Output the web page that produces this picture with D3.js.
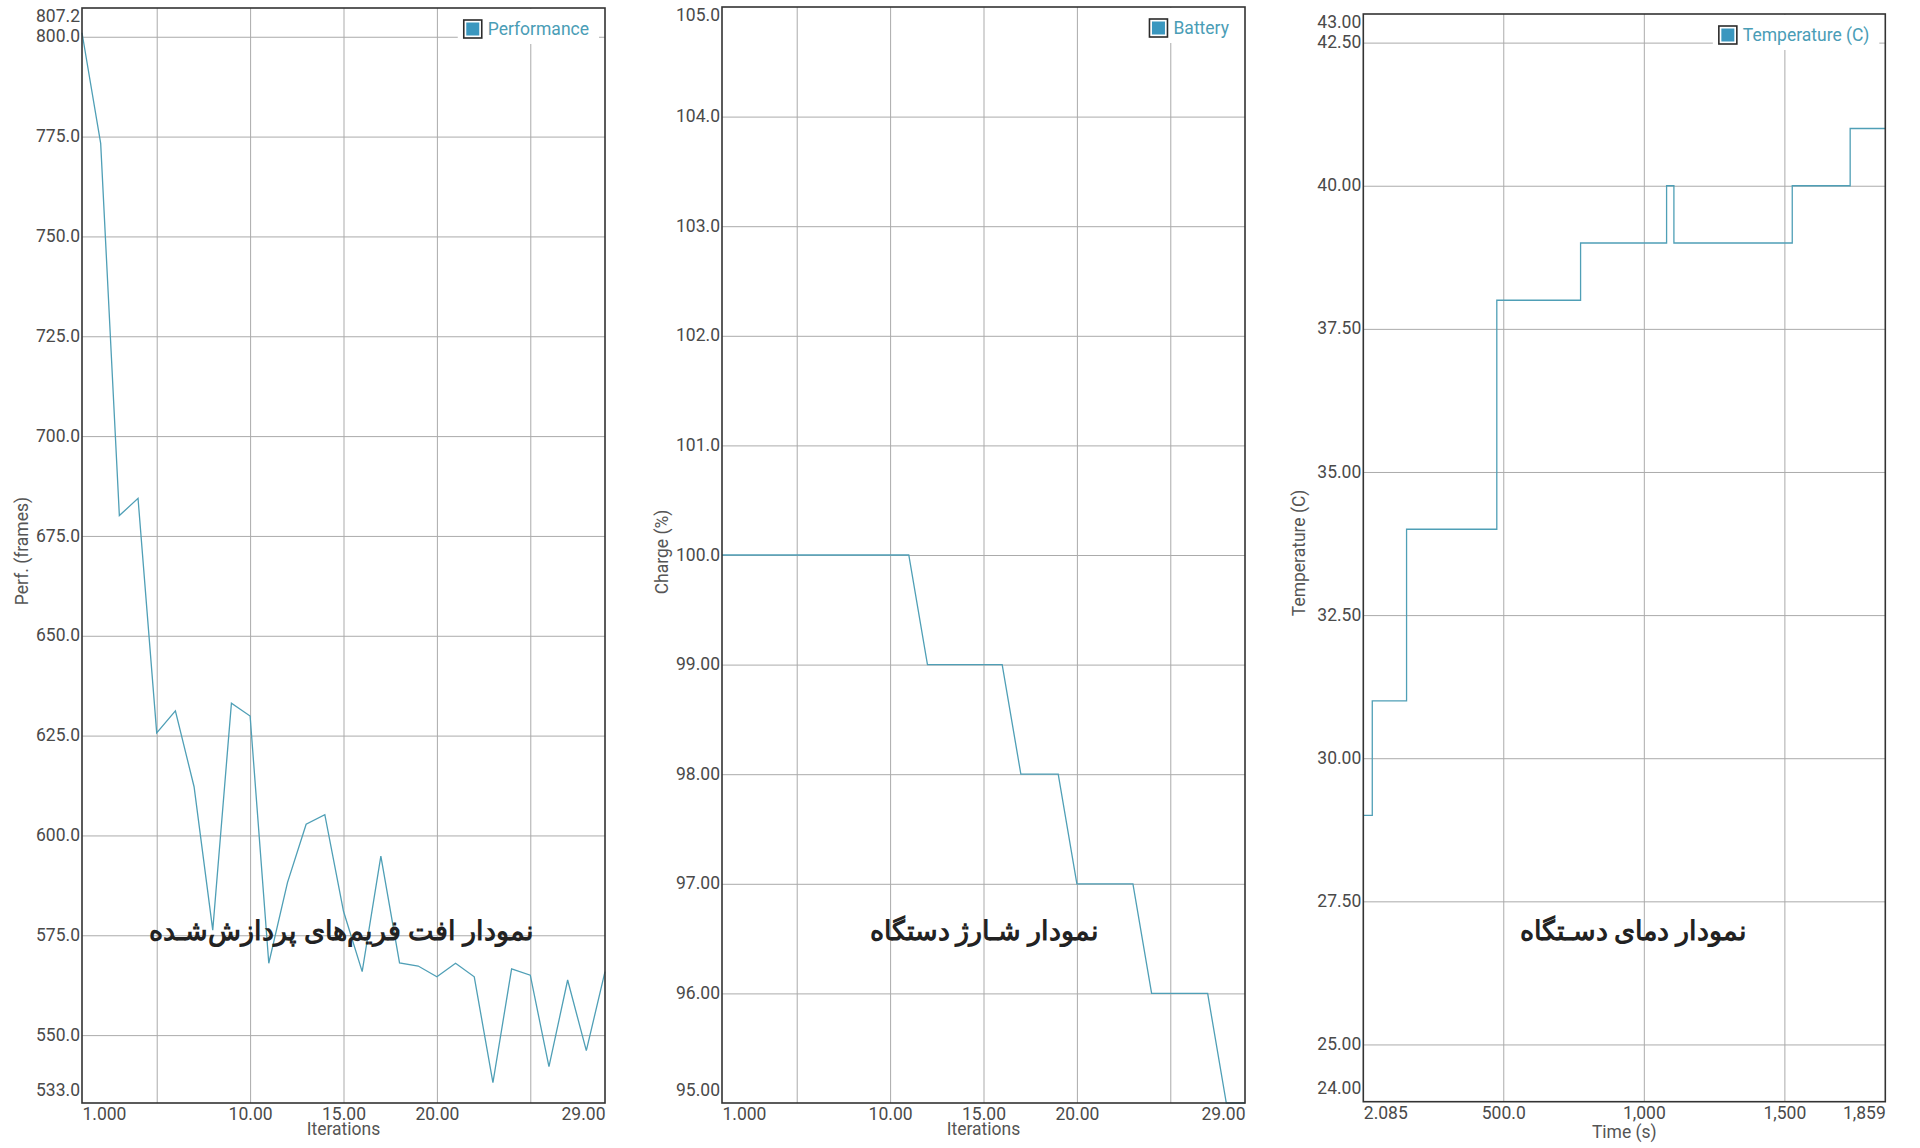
<!DOCTYPE html>
<html><head><meta charset="utf-8">
<script src="https://cdn.jsdelivr.net/npm/d3@7"></script>
<style>
body{margin:0;background:#fff}
text{font-family:Roboto,"Noto Sans",sans-serif}
</style>
</head><body>
<svg id="c" width="1920" height="1148"></svg>
<script>
// ---------- DATA ----------
const iterations = [1,2,3,4,5,6,7,8,9,10,11,12,13,14,15,16,17,18,19,20,21,22,23,24,25,26,27,28,29];
const performance = [801,773.3,680.1,684.4,625.7,631.2,612.2,576.3,633.1,629.9,568.0,588.2,602.8,605.2,581.0,565.9,594.8,568.1,567.3,564.6,568.0,564.6,538.1,566.6,565.0,542.1,563.8,546.1,565.9];
const battery = [100,100,100,100,100,100,100,100,100,100,100,99,99,99,99,99,98,98,98,97,97,97,97,96,96,96,96,95,95];
const tempTime = [2.085,34,156,477,775,1081,1107,1528,1734,1859];
const tempValue = [29,31,34,38,39,40,39,40,41,41];

const iterTickLabels = [1,10,15,20,29];
const iterGrid = [5,10,15,20,25];
const perfYTicks = [533,550,575,600,625,650,675,700,725,750,775,800,807.2];
const perfYGrid = [550,575,600,625,650,675,700,725,750,775,800];
const battYTicks = [95,96,97,98,99,100,101,102,103,104,105];
const battYGrid = [96,97,98,99,100,101,102,103,104];
const timeTickLabels = [2.085,500,1000,1500,1859];
const timeGrid = [500,1000,1500];
const tempYTicks = [24,25,27.5,30,32.5,35,37.5,40,42.5,43];
const tempYGrid = [25,27.5,30,32.5,35,37.5,40,42.5];

const seriesNames = ["Performance","Battery","Temperature (C)"];
const yTitles = ["Perf. (frames)","Charge (%)","Temperature (C)"];
const xTitles = ["Iterations","Iterations","Time (s)"];
const chartTitles = ["نمودار افت فریم‌های پردازش‌شـده","نمودار شـارژ دستگاه","نمودار دمای دسـتگاه"];

// ---------- LAYOUT ----------
const panels = [
  {x: iterations, y: performance, xDom:[1,29], yDom:[533,807.2], xLab:iterTickLabels, xGrid:iterGrid, yLab:perfYTicks, yGrid:perfYGrid,
   L:82, R:605, T:8, B:1103, step:false, yTitleY:551, yTitleOff:54, xTitleOff:32, titleDx:-2},
  {x: iterations, y: battery, xDom:[1,29], yDom:[95,105], xLab:iterTickLabels, xGrid:iterGrid, yLab:battYTicks, yGrid:battYGrid,
   L:722, R:1245, T:7, B:1103, step:false, yTitleY:552, yTitleOff:54.5, xTitleOff:32, titleDx:1},
  {x: tempTime, y: tempValue, xDom:[2.085,1859], yDom:[24,43], xLab:timeTickLabels, xGrid:timeGrid, yLab:tempYTicks, yGrid:tempYGrid,
   L:1363.3, R:1885.3, T:14, B:1101.7, step:true, yTitleY:553, yTitleOff:58, xTitleOff:36, titleDx:9}
];

const fmt = d3.format(",.4r");
const svg = d3.select("#c");
const FS = 17.5;
const lineColor = "#4f9fb6";
const gridColor = "#ababab";

panels.forEach((p, i) => {
  const w = p.R - p.L, h = p.B - p.T;
  const g = svg.append("g").attr("transform", `translate(${p.L},${p.T})`);
  const x = d3.scaleLinear().domain(p.xDom).range([0, w]);
  const y = d3.scaleLinear().domain(p.yDom).range([h, 0]);

  // grid
  const gx = g.append("g").call(d3.axisBottom(x).tickValues(p.xGrid).tickSize(h).tickFormat(""));
  gx.select(".domain").remove();
  gx.selectAll("line").attr("stroke", gridColor).attr("stroke-width", 1);
  const gy = g.append("g").call(d3.axisLeft(y).tickValues(p.yGrid).tickSize(-w).tickFormat(""));
  gy.select(".domain").remove();
  gy.selectAll("line").attr("stroke", gridColor).attr("stroke-width", 1);

  // line
  const line = d3.line()
    .x((d, k) => x(p.x[k]))
    .y(d => y(d))
    .curve(p.step ? d3.curveStepAfter : d3.curveLinear);
  g.append("path").datum(p.y).attr("d", line)
    .attr("fill", "none").attr("stroke", lineColor).attr("stroke-width", 1.3)
    .attr("stroke-linejoin", "miter");

  // frame
  g.append("rect").attr("width", w).attr("height", h)
    .attr("fill", "none").attr("stroke", "#333").attr("stroke-width", 1.6);

  // y axis labels
  const ay = g.append("g").call(d3.axisLeft(y).tickValues(p.yLab).tickSize(0).tickPadding(2).tickFormat(fmt));
  ay.select(".domain").remove();
  ay.selectAll(".tick").attr("transform", d => {
    const yy = Math.min(Math.max(y(d), 8), h - 13);
    return `translate(0,${yy})`;
  });
  ay.selectAll("text").attr("font-size", FS).attr("fill", "#4a4a4a").attr("font-family", "Roboto");

  // x axis labels
  const ax = g.append("g").attr("transform", `translate(0,${h})`)
    .call(d3.axisBottom(x).tickValues(p.xLab).tickSize(0).tickPadding(5).tickFormat(fmt));
  ax.select(".domain").remove();
  const n = p.xLab.length;
  ax.selectAll("text").attr("font-size", FS).attr("fill", "#4a4a4a").attr("font-family", "Roboto")
    .attr("text-anchor", (d, k) => k === 0 ? "start" : (k === n - 1 ? "end" : "middle"));

  // axis titles
  g.append("text").attr("x", w / 2).attr("y", h + p.xTitleOff)
    .attr("text-anchor", "middle").attr("font-size", FS).attr("fill", "#555").text(xTitles[i]);
  g.append("text").attr("transform", `translate(${-p.yTitleOff},${p.yTitleY - p.T}) rotate(-90)`)
    .attr("text-anchor", "middle").attr("font-size", FS).attr("fill", "#555").text(yTitles[i]);

  // legend
  const lg = g.append("g");
  const bg = lg.append("rect").attr("fill", "#fff");
  const lt = lg.append("text").attr("x", w - 16).attr("y", 21).attr("dy", "0.35em")
    .attr("text-anchor", "end").attr("font-size", FS).attr("fill", "#4a9db6").text(seriesNames[i]);
  const bb = lt.node().getBBox();
  const sx = bb.x - 24;
  bg.attr("x", sx - 6).attr("y", 1).attr("width", (w - 6) - (sx - 6)).attr("height", 35);
  lg.append("rect").attr("x", sx).attr("y", 12).attr("width", 18).attr("height", 18)
    .attr("fill", "#fff").attr("stroke", "#2b2b2b").attr("stroke-width", 1.6);
  lg.append("rect").attr("x", sx + 2.5).attr("y", 14.5).attr("width", 13).attr("height", 13)
    .attr("fill", "#3a97bf");

  // chart title
  g.append("text").attr("x", w / 2 + p.titleDx).attr("y", 931 - p.T).attr("dy", "0.35em")
    .attr("text-anchor", "middle").attr("direction", "rtl")
    .attr("font-family", "DejaVu Sans").attr("font-weight", "bold").attr("font-size", 27)
    .attr("fill", "#222").text(chartTitles[i]);
});
</script>
</body></html>
